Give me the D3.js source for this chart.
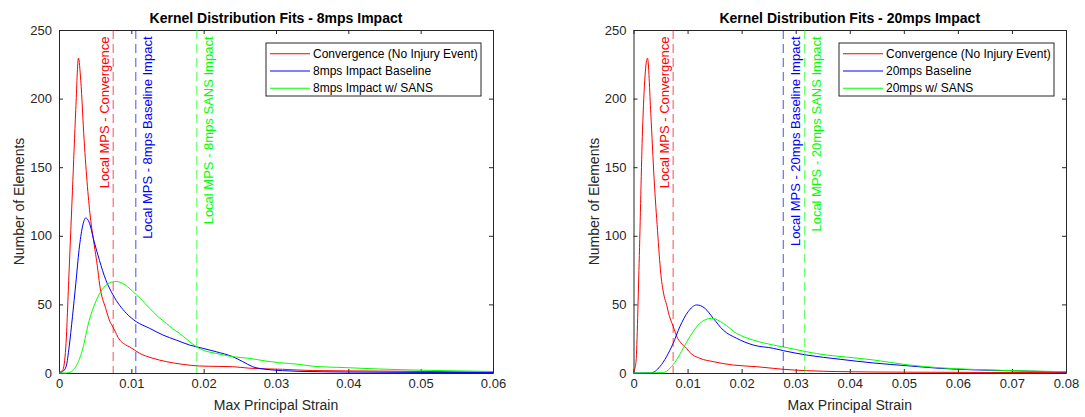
<!DOCTYPE html>
<html>
<head>
<meta charset="utf-8">
<script src="https://cdn.jsdelivr.net/npm/d3@7"></script>
<style>
    body { margin: 0; background: #fff; }
    text { font-family: Arial, "Liberation Sans", sans-serif; }
</style>
</head>
<body>
<main></main>
<script>

//Datos

//Panel izquierdo - 8mps
const conv8X = [0, 0.0005, 0.00094, 0.0014, 0.00186, 0.00232, 0.00269, 0.00301, 0.00347, 0.00393, 0.00439, 0.00485, 0.0053, 0.00563, 0.00646, 0.007, 0.00746, 0.0078, 0.00816, 0.00921, 0.00977, 0.01115, 0.013, 0.01483, 0.01712, 0.01942, 0.022, 0.024, 0.0263, 0.0309, 0.035, 0.0442, 0.0535, 0.06];
const conv8Y = [0.5, 2, 19, 75, 133, 192, 229.5, 213, 170, 136, 111, 94, 78, 64, 47, 38, 33.5, 30, 26, 20.5, 19, 14.3, 10.7, 8.3, 6.3, 5.1, 4.8, 4.6, 3.5, 2.7, 1.8, 1.4, 1, 0.6];

const base8X = [0, 0.0005, 0.001, 0.0014, 0.00186, 0.00232, 0.00278, 0.00324, 0.0037, 0.00416, 0.00485, 0.0056, 0.00646, 0.00746, 0.00931, 0.01069, 0.01252, 0.01436, 0.01621, 0.01804, 0.01988, 0.02172, 0.02401, 0.0254, 0.02677, 0.02862, 0.0309, 0.0332, 0.04, 0.05, 0.06];
const base8Y = [0, 1, 5, 19, 41, 65, 90, 106.5, 113, 110, 96, 82, 68, 57, 43.5, 37.4, 32.6, 27.7, 24, 20.4, 18, 15.5, 11.9, 8.3, 4.6, 2.7, 1.7, 1.2, 0.7, 0.4, 0.3];

const sans8X = [0, 0.001, 0.0017, 0.00232, 0.00324, 0.00416, 0.00508, 0.006, 0.0069, 0.00793, 0.0092, 0.01022, 0.0113, 0.01252, 0.0137, 0.01483, 0.01566, 0.01666, 0.0178, 0.01897, 0.02, 0.02172, 0.024, 0.0263, 0.02862, 0.0305, 0.0332, 0.035, 0.0397, 0.0443, 0.0488, 0.0534, 0.06];
const sans8Y = [0, 0, 1, 4.6, 16.8, 38, 52, 61, 65.5, 66.7, 64, 59.3, 54, 47.2, 41, 36.2, 32.5, 28.9, 24, 19.2, 16.5, 14.3, 11.9, 10.7, 8.7, 7.5, 6.3, 5, 3.9, 2.9, 2.2, 1.7, 1.1];

const mps8 = [0.00749, 0.01062, 0.01905];   //Lineas verticales: convergencia, baseline, SANS

//Panel derecho - 20mps
const conv20X = [0, 0.00043, 0.00104, 0.00167, 0.00259, 0.0032, 0.00382, 0.00444, 0.00506, 0.00567, 0.00611, 0.0066, 0.00704, 0.00752, 0.00796, 0.00876, 0.00981, 0.0103, 0.01228, 0.01474, 0.01844, 0.02278, 0.02585, 0.0277, 0.032, 0.0382, 0.05, 0.065, 0.08];
const conv20Y = [1, 7, 80, 177, 229.5, 189, 141, 104, 72, 56, 50, 42, 37, 32, 27, 22, 18, 15.5, 10.7, 8.3, 5.8, 4.6, 3.4, 2.7, 1.7, 1, 0.6, 0.4, 0.3];

const base20X = [0, 0.0032, 0.00487, 0.00611, 0.00733, 0.00857, 0.01011, 0.01167, 0.0132, 0.01474, 0.01659, 0.01907, 0.02215, 0.02585, 0.0277, 0.032, 0.0382, 0.0444, 0.0506, 0.0567, 0.0691, 0.08];
const base20Y = [0, 0, 4.6, 11.9, 21.6, 33.7, 44.7, 49.6, 47.2, 39.9, 31.3, 25.3, 20.4, 18, 16.3, 13.1, 10, 7.3, 5.3, 3.4, 1.7, 0.8];

const sans20X = [0, 0.0055, 0.00672, 0.00796, 0.00919, 0.01043, 0.01228, 0.01444, 0.01659, 0.01907, 0.02215, 0.02585, 0.02894, 0.032, 0.0357, 0.0394, 0.0444, 0.0506, 0.0567, 0.0629, 0.0691, 0.08];
const sans20Y = [0, 0.3, 3.4, 9.5, 18, 26.5, 36.2, 39.9, 36.2, 28.9, 24, 20.4, 18, 15.5, 13.1, 11.6, 9.5, 6, 3.8, 2.6, 1.8, 1];

const mps20 = [0.00733, 0.0277, 0.03167];

//Ticks
const yTicks = [0, 50, 100, 150, 200, 250];
const xTicks8 = [0, 0.01, 0.02, 0.03, 0.04, 0.05, 0.06];
const xTicks20 = [0, 0.01, 0.02, 0.03, 0.04, 0.05, 0.06, 0.07, 0.08];

//Textos
const titulos = ['Kernel Distribution Fits - 8mps Impact', 'Kernel Distribution Fits - 20mps Impact'];
const leyenda8 = ['Convergence (No Injury Event)', '8mps Impact Baseline', '8mps Impact w/ SANS'];
const leyenda20 = ['Convergence (No Injury Event)', '20mps Baseline', '20mps w/ SANS'];
const etiq8 = ['Local MPS - Convergence', 'Local MPS - 8mps Baseline Impact', 'Local MPS - 8mps SANS Impact'];
const etiq20 = ['Local MPS - Convergence', 'Local MPS - 20mps Baseline Impact', 'Local MPS - 20mps SANS Impact'];

const colores = ['#ff0000', '#0000ff', '#00ff00'];
const gris = '#262626';

const [w, h] = [1085, 417];
const [yTop, yBottom] = [30, 373];

var svg = d3.select('main')
    .append('svg')
    .attr('width', w)
    .attr('height', h);

//Dibuja un panel completo
function dibujarPanel(p) {

    const xScale = d3.scaleLinear().domain([0, p.xMax]).range([p.left, p.right]);
    const yScale = d3.scaleLinear().domain([0, 250]).range([yBottom, yTop]);

    const g = svg.append('g');

    //Ejes (ticks hacia dentro, caja cerrada)
    const ejes = [
        [d3.axisBottom(xScale).tickValues(p.xTicks).tickFormat(d => d === 0 ? '0' : d.toFixed(2)).tickPadding(6), `translate(0,${yBottom})`],
        [d3.axisTop(xScale).tickValues(p.xTicks).tickFormat(''), `translate(0,${yTop})`],
        [d3.axisLeft(yScale).tickValues(yTicks).tickPadding(7), `translate(${p.left},0)`],
        [d3.axisRight(yScale).tickValues(yTicks).tickFormat(''), `translate(${p.right},0)`]
    ];

    ejes.forEach(([eje, tr]) => {
        const a = g.append('g')
            .attr('transform', tr)
            .call(eje.tickSizeInner(-4).tickSizeOuter(0));
        a.select('.domain').attr('stroke', gris);
        a.selectAll('line').attr('stroke', gris);
        a.selectAll('text')
            .attr('fill', gris)
            .style('font-size', '13px')
            .style('font-family', 'Arial, "Liberation Sans", sans-serif');
    });

    //Curvas
    const linea = d3.line()
        .x(d => xScale(d[0]))
        .y(d => yScale(d[1]))
        .curve(d3.curveMonotoneX);

    p.series.forEach((s, i) => {
        g.append('path')
            .datum(d3.zip(s[0], s[1]))
            .attr('d', linea)
            .attr('fill', 'none')
            .attr('stroke', colores[i])
            .attr('stroke-width', 1);
    });

    //Lineas verticales con etiqueta
    p.mps.forEach((v, i) => {
        const x = xScale(v);
        g.append('line')
            .attr('x1', x).attr('x2', x)
            .attr('y1', yTop).attr('y2', yBottom)
            .attr('stroke', colores[i])
            .attr('stroke-opacity', 0.7)
            .attr('stroke-dasharray', '9,5');

        const xt = (i === 0) ? x - 4.5 : x + 16.5;
        g.append('text')
            .attr('transform', `translate(${xt},36.5) rotate(-90)`)
            .attr('text-anchor', 'end')
            .attr('fill', colores[i])
            .style('font-size', '13px')
            .text(p.etiquetas[i]);
    });

    //Titulo y nombres de los ejes
    const cx = (p.left + p.right) / 2;

    g.append('text')
        .attr('x', cx).attr('y', 23)
        .attr('text-anchor', 'middle')
        .style('font-size', '14px')
        .style('font-weight', 'bold')
        .text(p.titulo);

    g.append('text')
        .attr('x', cx).attr('y', 410)
        .attr('text-anchor', 'middle')
        .attr('fill', gris)
        .style('font-size', '14px')
        .text('Max Principal Strain');

    g.append('text')
        .attr('transform', `translate(${p.left - 35},${(yTop + yBottom) / 2}) rotate(-90)`)
        .attr('text-anchor', 'middle')
        .attr('fill', gris)
        .style('font-size', '14px')
        .text('Number of Elements');

    //Leyenda
    const [lx, ly, lw, lh] = [p.right - 227, 43, 215, 53];

    g.append('rect')
        .attr('x', lx).attr('y', ly)
        .attr('width', lw).attr('height', lh)
        .attr('fill', '#fff')
        .attr('stroke', gris);

    p.leyenda.forEach((t, i) => {
        const y = ly + 10.8 + i * 17.2;
        g.append('line')
            .attr('x1', lx + 4).attr('x2', lx + 44)
            .attr('y1', y).attr('y2', y)
            .attr('stroke', colores[i])
            .attr('stroke-width', 1.1);
        g.append('text')
            .attr('x', lx + 47).attr('y', y + 4)
            .style('font-size', '12px')
            .text(t);
    });
}

dibujarPanel({
    left: 59, right: 493, xMax: 0.06, xTicks: xTicks8,
    series: [[conv8X, conv8Y], [base8X, base8Y], [sans8X, sans8Y]],
    mps: mps8, etiquetas: etiq8, titulo: titulos[0], leyenda: leyenda8
});

dibujarPanel({
    left: 633.5, right: 1066, xMax: 0.08, xTicks: xTicks20,
    series: [[conv20X, conv20Y], [base20X, base20Y], [sans20X, sans20Y]],
    mps: mps20, etiquetas: etiq20, titulo: titulos[1], leyenda: leyenda20
});

</script>
</body>
</html>
